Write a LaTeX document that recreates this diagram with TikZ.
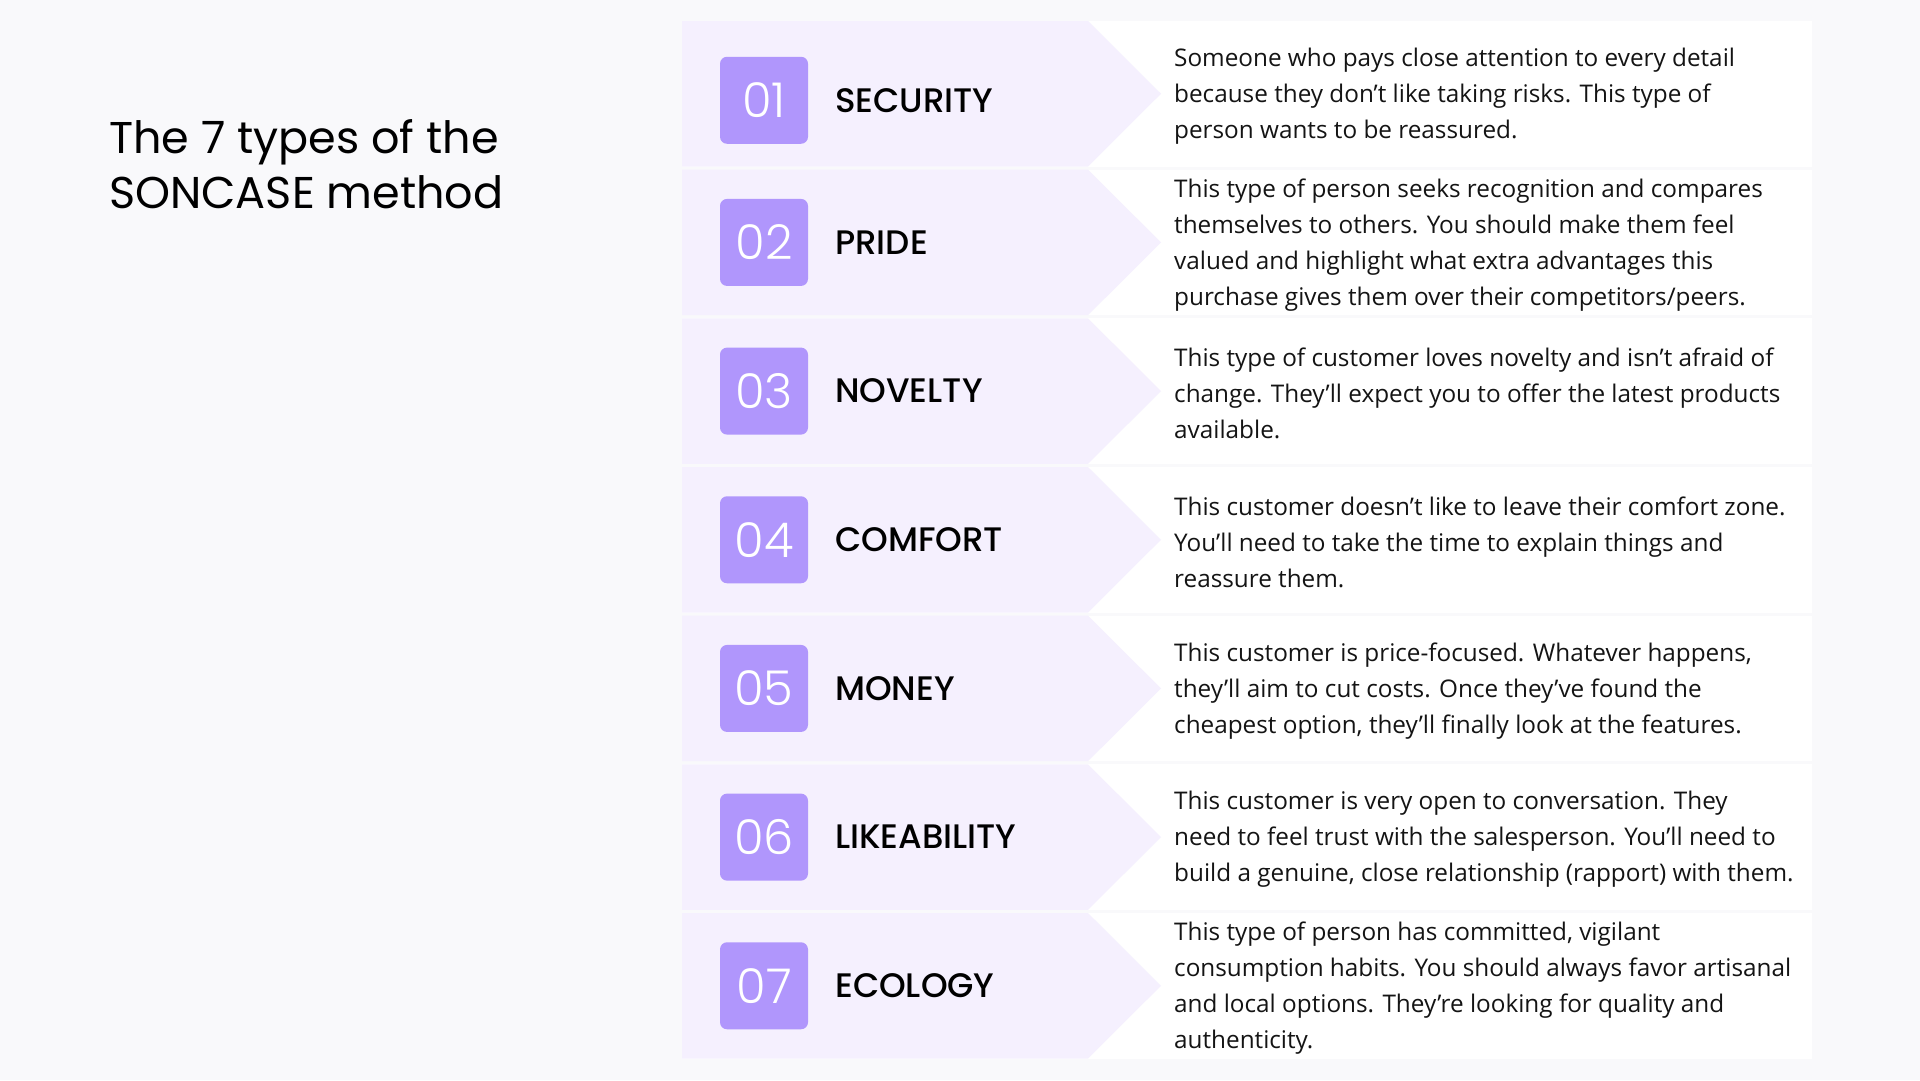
\documentclass[tikz,border=0pt]{standalone}
\usepackage{fontspec}
\setmainfont{Open Sans}
\newfontfamily\titlefont{Poppins}
\newfontfamily\labfont{Poppins Medium}
\newfontfamily\numfont{Poppins Light}
\definecolor{bgc}{HTML}{F9F9FB}
\definecolor{lav}{HTML}{F5F0FE}
\definecolor{badgec}{HTML}{B096FC}
\definecolor{txt}{HTML}{141414}
\tikzset{
  badge/.style={fill=badgec, rounded corners=7pt, minimum width=88pt, minimum height=87pt,
    inner sep=0pt, text=white, font=\numfont\fontsize{48}{48}\selectfont},
  lab/.style={anchor=west, inner sep=0pt, text=black, font=\labfont\fontsize{34}{34}\selectfont},
  desc/.style={anchor=west, align=left, inner sep=0pt, text=txt, font=\fontsize{24.3}{36}\selectfont},
  ttl/.style={anchor=base west, inner sep=0pt, text=black, font=\titlefont\fontsize{44.5}{55}\selectfont},
}
\newcommand\sonrow[6]{%
  \pgfmathsetmacro\rt{21+148.67*#1}%
  \pgfmathsetmacro\rb{\rt+145.5}%
  \pgfmathsetmacro\rc{\rt+72.75}%
  \pgfmathsetmacro\bc{\rc+#6}%
  \pgfmathsetmacro\dc{\rc+2.5}%
  \fill[white] (682,\rt) rectangle (1812,\rb);
  \fill[lav] (682,\rt) -- (1088,\rt) -- (1161,\rc) -- (1088,\rb) -- (682,\rb) -- cycle;
  \node[badge] (n#2) at (764,\bc) {#3};
  \node[lab] (l#2) at (835,\bc) {#4};
  \node[desc] (d#2) at (1174,\dc) {#5};
}
\begin{document}
\begin{tikzpicture}[x=1pt,y=-1pt]
\fill[bgc] (0,0) rectangle (1920,1080);
\useasboundingbox (0,0) rectangle (1920,1080);
\node[ttl] (title1) at (109,153) {The 7 types of the};
\node[ttl] (title2) at (109,208) {SONCASE method};
\sonrow{0}{a}{01}{SECURITY}{Someone who pays close attention to every detail\\because they don’t like taking risks. This type of\\person wants to be reassured.}{6.5}
\sonrow{1}{b}{02}{PRIDE}{This type of person seeks recognition and compares\\themselves to others. You should make them feel\\valued and highlight what extra advantages this\\purchase gives them over their competitors/peers.}{0}
\sonrow{2}{c}{03}{NOVELTY}{This type of customer loves novelty and isn’t afraid of\\change. They’ll expect you to offer the latest products\\available.}{0}
\sonrow{3}{d}{04}{COMFORT}{This customer doesn’t like to leave their comfort zone.\\You’ll need to take the time to explain things and\\reassure them.}{0}
\sonrow{4}{e}{05}{MONEY}{This customer is price-focused. Whatever happens,\\they’ll aim to cut costs. Once they’ve found the\\cheapest option, they’ll finally look at the features.}{0}
\sonrow{5}{f}{06}{LIKEABILITY}{This customer is very open to conversation. They\\need to feel trust with the salesperson. You’ll need to\\build a genuine, close relationship (rapport) with them.}{0}
\sonrow{6}{g}{07}{ECOLOGY}{This type of person has committed, vigilant\\consumption habits. You should always favor artisanal\\and local options. They’re looking for quality and\\authenticity.}{0}
\end{tikzpicture}
\end{document}
